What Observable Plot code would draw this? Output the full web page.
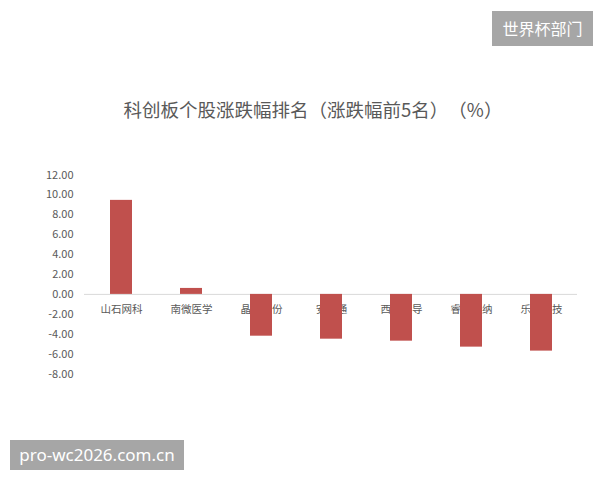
<!DOCTYPE html>
<html>
<head>
<meta charset="utf-8">
<script src="https://cdn.jsdelivr.net/npm/d3@7"></script>
<script src="https://cdn.jsdelivr.net/npm/@observablehq/plot@0.6"></script>
<style>
  html, body { margin: 0; padding: 0; background: #fff; }
  #wrap { position: relative; width: 600px; height: 480px; overflow: hidden; font-family: "Noto Sans CJK SC", "Noto Sans", sans-serif; }
  #chart { position: absolute; left: 0; top: 0; }
  #title { position: absolute; left: 0; width: 626px; top: 95px; text-align: center; font-size: 18.5px; line-height: 28px; color: #595959; text-spacing-trim: space-all; font-feature-settings: "chws" 0, "halt" 0; }
  #wm1 { position: absolute; left: 492px; top: 11px; width: 101px; height: 35px; line-height: 35px; background: #a6a6a6; color: #fff; font-size: 16px; text-align: center; }
  #wm2 { position: absolute; left: 10px; top: 440px; width: 174px; height: 30px; line-height: 30px; background: #a6a6a6; color: #fff; font-size: 17px; text-align: center; font-family: "Noto Sans", sans-serif; }
</style>
</head>
<body>
<div id="wrap">
  <div id="chart"></div>
  <div id="title"></div>
  <div id="wm1"></div>
  <div id="wm2"></div>
</div>
<script>
const titleText = "科创板个股涨跌幅排名（涨跌幅前5名）（%）";
const categories = ["山石网科", "南微医学", "晶晨股份", "安博通", "西部超导", "睿创微纳", "乐鑫科技"];
const values = [9.45, 0.6, -4.2, -4.5, -4.7, -5.3, -5.7];
const yTicks = [12, 10, 8, 6, 4, 2, 0, -2, -4, -6, -8];
const watermarkTop = "世界杯部门";
const watermarkBottom = "pro-wc2026.com.cn";

document.getElementById("title").textContent = titleText;
document.getElementById("wm1").textContent = watermarkTop;
document.getElementById("wm2").textContent = watermarkBottom;

const data = categories.map((c, i) => ({ name: c, value: values[i] }));

const chart = Plot.plot({
  width: 600,
  height: 480,
  marginLeft: 84,
  marginRight: 23,
  marginTop: 174.5,
  marginBottom: 106.5,
  style: { fontFamily: "'Noto Sans CJK SC', 'Noto Sans', sans-serif", background: "transparent", color: "#595959" },
  x: { domain: categories, paddingInner: 0.69, paddingOuter: 0.345, axis: null },
  y: { domain: [-8, 12], axis: null },
  marks: [
    Plot.axisY({ ticks: yTicks, tickFormat: d => d.toFixed(2), tickSize: 0, tickPadding: 11, fontSize: 11, fill: "#595959", label: null }),
    Plot.ruleY([0], { stroke: "#d9d9d9", strokeWidth: 1 }),
    Plot.text(data, { x: "name", y: () => 0, text: "name", dy: 15, fontSize: 10.5, fill: "#595959" }),
    Plot.barY(data, { x: "name", y: "value", fill: "#c0504d" })
  ]
});
document.getElementById("chart").appendChild(chart);
</script>
</body>
</html>
